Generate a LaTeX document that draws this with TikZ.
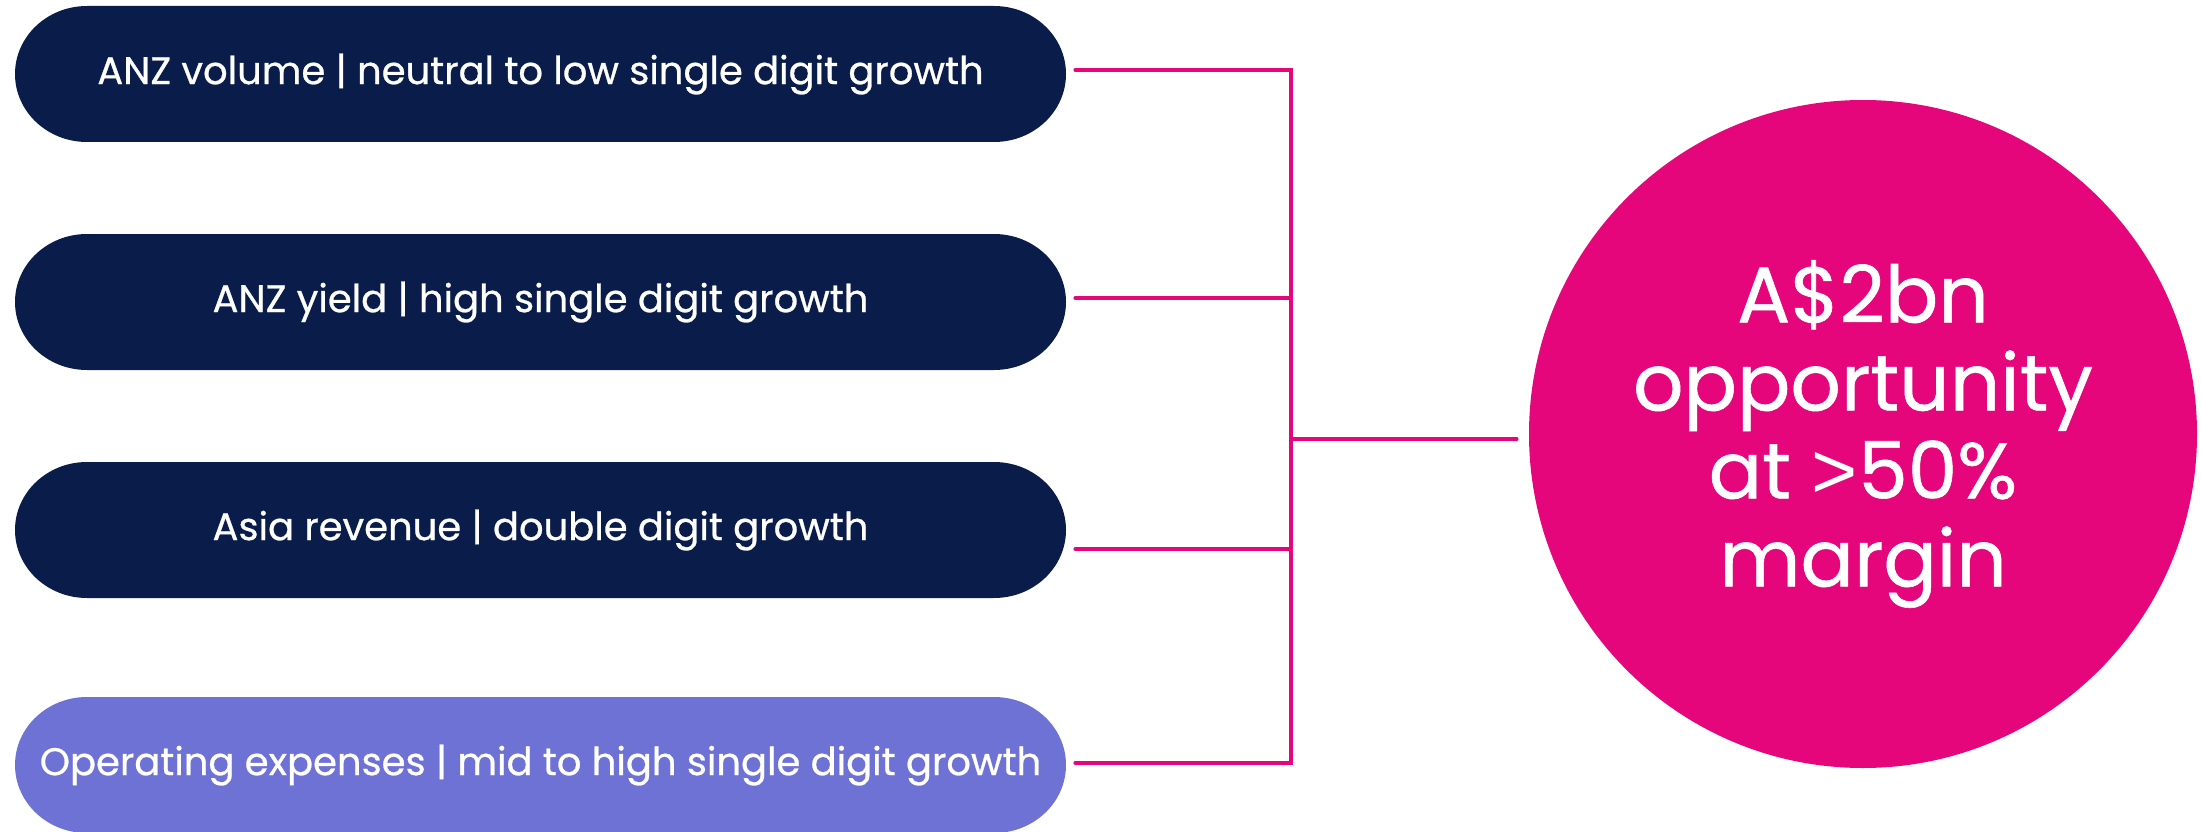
\documentclass[tikz,border=0pt]{standalone}
\usepackage{fontspec}
\setmainfont{Poppins}[FakeBold=0.7]
\newfontfamily\gtfont{Liberation Sans}
\definecolor{navy}{HTML}{0A1C4A}
\definecolor{lav}{HTML}{6E72D4}
\definecolor{anzpink}{HTML}{E5067B}
\newcommand\pillshape[2]{%
  \fill[#2] (87,{#1-68}) -- (994,{#1-68})
    arc[start angle=-90,end angle=90,x radius=72,y radius=68]
    -- (87,{#1+68})
    arc[start angle=90,end angle=270,x radius=72,y radius=68] -- cycle;}
\begin{document}
\begin{tikzpicture}[x=1pt,y=-1pt,
  pilltext/.style={text=white,font=\fontsize{38.5}{42}\selectfont,inner sep=0pt,
    minimum width=1051pt,minimum height=136pt},
  conn/.style={draw=anzpink,line width=3.5pt,line cap=round},
  bigcircle/.style={circle,fill=anzpink,minimum size=668pt,inner sep=0pt,
    text=white,align=center,font=\fontsize{79}{88}\selectfont}]
\useasboundingbox (0,0) rectangle (2201,832);
\pillshape{74}{navy}
\pillshape{302}{navy}
\pillshape{530}{navy}
\pillshape{765}{lav}
\node[pilltext] (p1) at (540.5,74) {ANZ volume | neutral to low single digit growth};
\node[pilltext] (p2) at (540.5,302) {ANZ yield | high single digit growth};
\node[pilltext] (p3) at (540.5,530) {Asia revenue | double digit growth};
\node[pilltext] (p4) at (540.5,765) {Operating expenses | mid to high single digit growth};
\node[bigcircle] (c) at (1863,434) {A\$2bn\\opportunity\\at {\gtfont >}50\%\\margin};
\coordinate (bus) at (1291,439);
\coordinate (cw) at (bus -| c.west);
\draw[conn] ([xshift=9pt,yshift=4pt]p1.east) -- ([yshift=4pt]p1.east -| bus)
  -- ([yshift=2pt]p4.east -| bus) -- ([xshift=9pt,yshift=2pt]p4.east);
\draw[conn] ([xshift=9pt,yshift=4pt]p2.east) -- ([yshift=4pt]p2.east -| bus);
\draw[conn] ([xshift=9pt,yshift=-19pt]p3.east) -- ([yshift=-19pt]p3.east -| bus);
\draw[conn] (bus) -- ([xshift=-12pt]cw);
\end{tikzpicture}
\end{document}
